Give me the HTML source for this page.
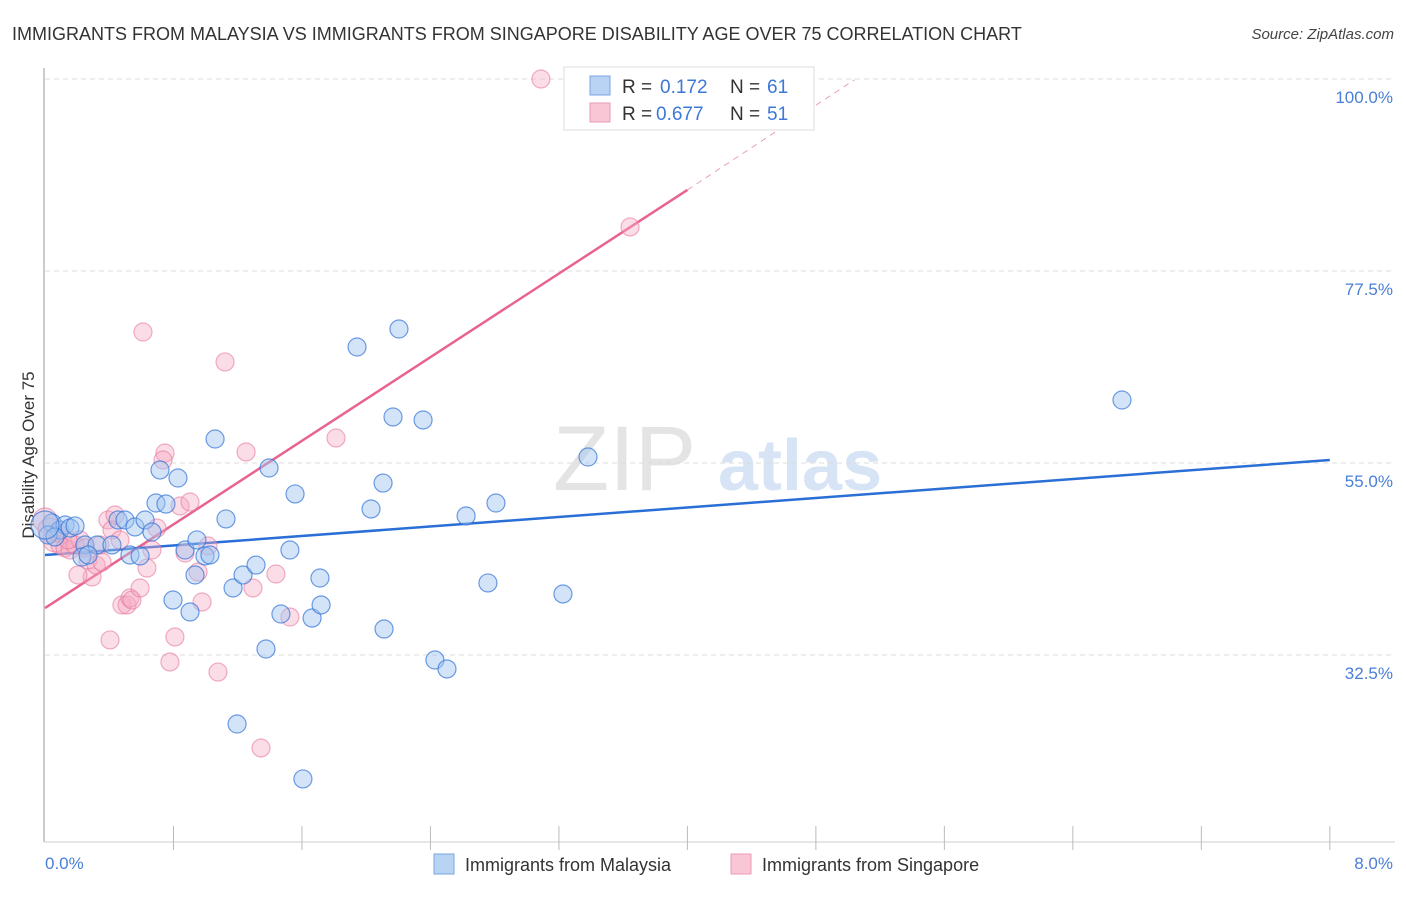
<!DOCTYPE html>
<html><head><meta charset="utf-8"><style>
body{margin:0;background:#fff;font-family:"Liberation Sans",sans-serif;}
svg text{font-family:"Liberation Sans",sans-serif;}
</style></head><body>
<svg id="chart" width="1406" height="892" xmlns="http://www.w3.org/2000/svg">
<text x="12" y="40" font-size="18" fill="#333">IMMIGRANTS FROM MALAYSIA VS IMMIGRANTS FROM SINGAPORE DISABILITY AGE OVER 75 CORRELATION CHART</text>
<text x="1394" y="39" font-size="15" fill="#444" text-anchor="end" font-style="italic">Source: ZipAtlas.com</text>
<g>
<text x="553" y="490" font-size="92" fill="#e4e4e4" font-family="Liberation Serif,serif">ZIP</text>
<text x="718" y="490" font-size="72" fill="#d6e4f5" font-weight="bold">atlas</text>
</g>
<g id="grid"></g>
<line x1="44" y1="68" x2="44" y2="842" stroke="#bbb" stroke-width="1.5"/>
<line x1="44" y1="842" x2="1395" y2="842" stroke="#ccc"/>
<text transform="translate(34,455) rotate(-90)" font-size="17" fill="#333" text-anchor="middle">Disability Age Over 75</text>
<text x="45" y="869" font-size="17" fill="#4a7fd6">0.0%</text>
<text x="1393" y="869" font-size="17" fill="#4a7fd6" text-anchor="end">8.0%</text>
<g id="ticks"></g>
<g id="lines"></g>
<g id="pts"></g>
<g>
<rect x="564" y="67" width="250" height="63" fill="#fff" stroke="#ddd"/>
<rect x="590" y="76" width="20" height="19" fill="#b9d3f5" stroke="#7aa5e0"/>
<rect x="590" y="103" width="20" height="19" fill="#f9c6d6" stroke="#eb9ab3"/>
<text x="622" y="93" font-size="19" fill="#333">R = </text><text x="660" y="93" font-size="19" fill="#3c78d8">0.172</text>
<text x="730" y="93" font-size="19" fill="#333">N = </text><text x="767" y="93" font-size="19" fill="#3c78d8">61</text>
<text x="622" y="120" font-size="19" fill="#333">R = </text><text x="656" y="120" font-size="19" fill="#3c78d8">0.677</text>
<text x="730" y="120" font-size="19" fill="#333">N = </text><text x="767" y="120" font-size="19" fill="#3c78d8">51</text>
</g>
<g>
<rect x="434" y="854" width="20" height="20" fill="#b9d3f5" stroke="#7aa5e0"/>
<text x="465" y="871" font-size="18" fill="#333">Immigrants from Malaysia</text>
<rect x="731" y="854" width="20" height="20" fill="#f9c6d6" stroke="#eb9ab3"/>
<text x="762" y="871" font-size="18" fill="#333">Immigrants from Singapore</text>
</g>
</svg>
<script>
const yTicks=[100,77.5,55,32.5];
const yTickLabels=["100.0%","77.5%","55.0%","32.5%"];
const xTicks=[0.8,1.6,2.4,3.2,4.0,4.8,5.6,6.4,7.2,8.0];
const malaysiaX=[0.044,0.093,0.125,0.156,0.019,0.062,0.249,0.324,0.230,0.268,0.417,0.455,0.498,0.529,0.560,0.592,0.623,0.666,0.691,0.716,0.753,0.828,0.797,0.872,0.903,0.946,0.934,0.996,1.027,1.059,1.127,1.171,1.196,1.233,1.314,1.376,1.395,1.469,1.525,1.557,1.606,1.663,1.712,1.719,1.943,2.030,2.105,2.111,2.167,2.204,2.354,2.428,2.503,2.622,2.758,2.808,3.225,3.381,6.706,0.0,0.187];
const malaysiaY=[47.97,47.15,47.73,47.38,46.56,46.33,45.39,45.39,43.98,44.22,45.39,48.32,48.32,44.22,47.5,44.1,48.32,46.91,50.31,54.18,50.19,53.24,38.94,44.8,37.54,45.98,41.87,44.1,44.22,57.81,48.44,40.35,24.41,41.87,43.04,33.2,54.41,37.3,44.8,51.37,17.97,36.83,41.52,38.36,68.59,49.61,52.65,35.54,60.39,70.7,60.04,31.91,30.86,48.79,40.94,50.31,39.65,55.7,62.38,47.73,47.62];
const singaporeX=[0,0.031,0.062,0.093,0.125,0.156,0.187,0.218,0.268,0.293,0.318,0.342,0.392,0.405,0.417,0.436,0.479,0.511,0.529,0.542,0.592,0.610,0.635,0.666,0.697,0.747,0.735,0.778,0.809,0.841,0.872,0.903,0.953,0.978,1.015,1.077,1.121,1.252,1.295,1.345,1.438,1.525,1.812,3.088,3.643,0.081,0.143,0.249,0.355,0.205,0.467];
const singaporeY=[48.32,47.15,45.98,45.39,45.04,44.8,45.39,45.98,43.63,41.64,43.04,45.39,48.32,34.26,47.15,48.9,38.36,38.36,39.18,38.94,40.35,70.35,42.69,44.8,47.38,56.17,55.35,31.68,34.61,49.96,44.45,50.43,42.22,38.71,45.27,30.5,66.84,56.29,40.35,21.6,41.99,36.95,57.93,100,82.66,46.8,45.98,45.04,43.4,41.87,45.98];
const malaysiaTrend=[44.22,55.35];
const singaporeTrend=[38.0,87.0,99.9];
const singaporeTrendX=[0,4.0,5.04];
const NS="http://www.w3.org/2000/svg";
function X(v){return 45+v*160.6;}
function Y(v){return 79+(100-v)*8.533;}
function mk(tag,parent,attrs){const e=document.createElementNS(NS,tag);for(const k in attrs)e.setAttribute(k,attrs[k]);document.getElementById(parent).appendChild(e);return e;}
yTicks.forEach((t,i)=>{
 const l=mk('line','grid',{x1:45,x2:1395,y1:Y(t),y2:Y(t),stroke:'#ddd','stroke-dasharray':'5,4'});
 
 
 const tx=mk('text','grid',{x:1393,y:Y(t)+24,'font-size':17,fill:'#4a7fd6','text-anchor':'end'});
 tx.textContent=yTickLabels[i];
 
 
});
xTicks.forEach(t=>{
 const l=mk('line','ticks',{x1:X(t),x2:X(t),y1:826,y2:850,stroke:'#bbb'});
 
 
});
const lb=mk('line','lines',{x1:X(0),y1:Y(malaysiaTrend[0]),x2:X(8),y2:Y(malaysiaTrend[1]),stroke:'#2a6fd6','stroke-width':2.5});


const lp=mk('line','lines',{x1:X(singaporeTrendX[0]),y1:Y(singaporeTrend[0]),x2:X(singaporeTrendX[1]),y2:Y(singaporeTrend[1]),stroke:'#e8648e','stroke-width':2.5});


const ld=mk('line','lines',{x1:X(singaporeTrendX[1]),y1:Y(singaporeTrend[1]),x2:X(singaporeTrendX[2]),y2:Y(singaporeTrend[2]),stroke:'#eaa0b8','stroke-width':1,'stroke-dasharray':'6,5'});


singaporeX.forEach((x,i)=>{
 const c=mk('circle','pts',{cx:X(x),cy:Y(singaporeY[i]),r:(i<3?12:9),fill:'rgba(246,170,195,0.4)',stroke:'rgba(232,120,158,0.6)','stroke-width':1.2});
 
 
});
malaysiaX.forEach((x,i)=>{
 const c=mk('circle','pts',{cx:X(x),cy:Y(malaysiaY[i]),r:(i==59?14:9),fill:'rgba(160,195,240,0.45)',stroke:'rgba(50,115,215,0.7)','stroke-width':1.2});
 
 
});
</script>
</body></html>
